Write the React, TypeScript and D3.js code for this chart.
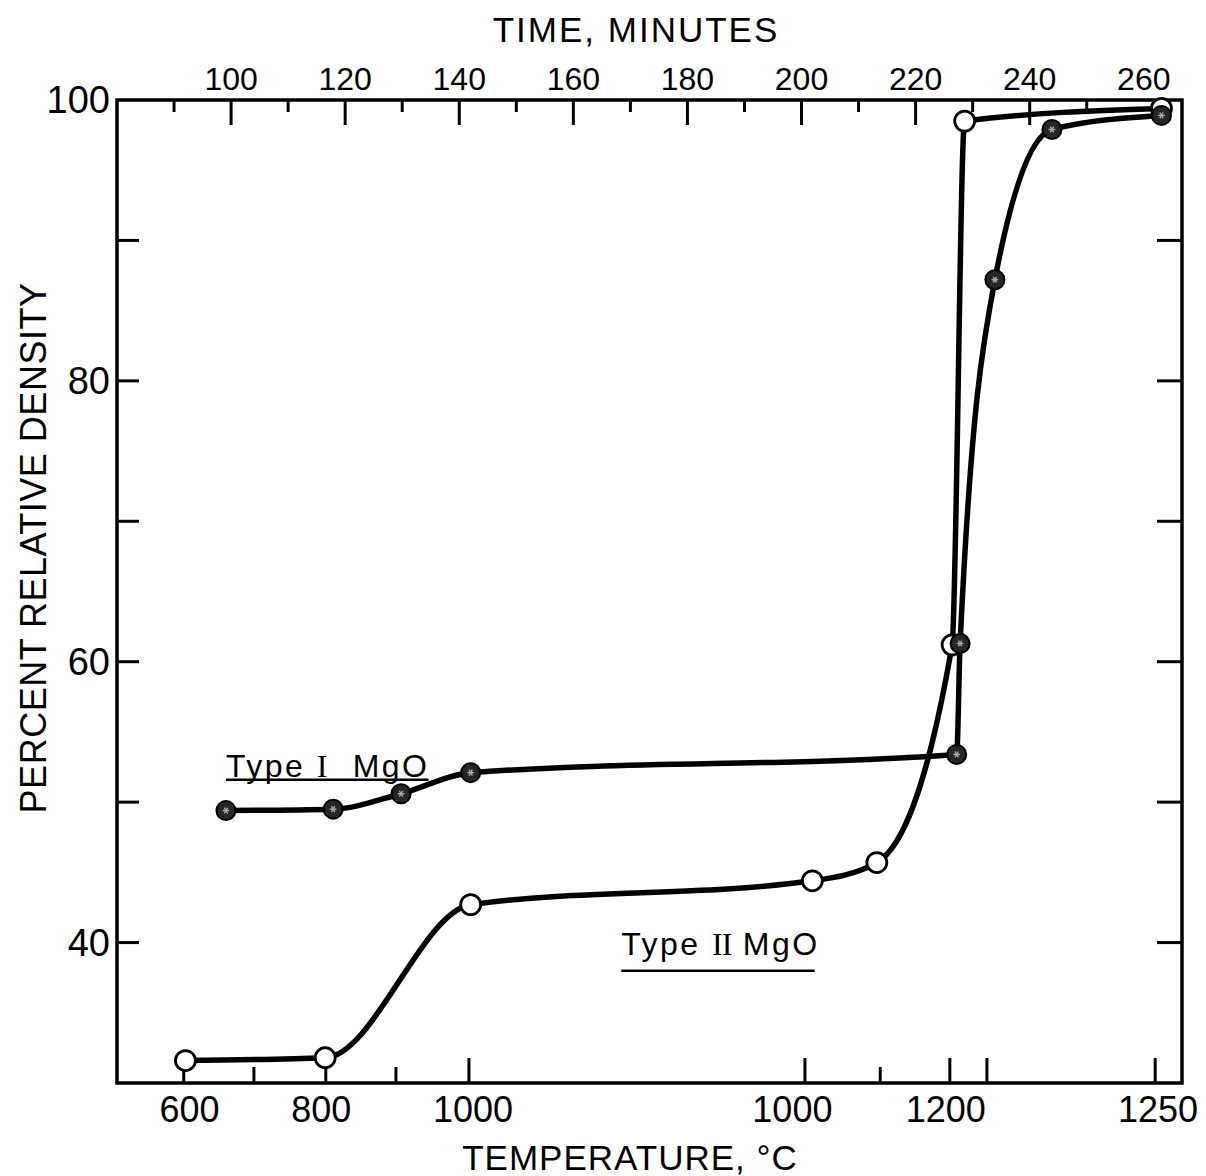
import React from "react";
import * as d3 from "d3";

// ---- data (x = time in minutes, y = percent relative density) ----
const typeIITime = [92, 116.5, 142, 201.9, 213.2, 226.4, 228.6, 263.1];
const typeIIDensity = [31.6, 31.8, 42.7, 44.4, 45.7, 61.2, 98.5, 99.4];

const typeITime = [99.1, 117.9, 129.8, 142, 227.2, 227.8, 233.9, 243.9, 263.1];
const typeIDensity = [49.4, 49.5, 50.6, 52.1, 53.4, 61.3, 87.2, 97.9, 98.9];

// top axis (time, minutes)
const timeMajorTicks = [100, 120, 140, 160, 180, 200, 220, 240];
const timeMinorTicks = [90, 110, 130, 150, 170, 190, 210, 230, 250];
const timeLabels = [100, 120, 140, 160, 180, 200, 220, 240, 260];

// bottom axis (temperature, placed at time of reaching it)
const tempTickTimes = [91.7, 104, 116.6, 128.9, 141.7, 200.6, 213.8, 226, 232.5, 262];
const tempTickLong = [true, false, true, false, true, true, false, true, true, true];
const tempLabels = ["600", "800", "1000", "1000", "1200", "1250"];
const tempLabelTimes = [92.7, 115.8, 142.4, 198.4, 225.3, 262.5];

// left / right axis
const densityTicks = [40, 50, 60, 70, 80, 90];
const densityLabels = [40, 60, 80, 100];

const W = 1206;
const H = 1176;
const FONT = "'Liberation Sans', Arial, Helvetica, sans-serif";

export default function App() {
  const x = d3.scaleLinear().domain([80, 266.7]).range([117, 1182]);
  const y = d3.scaleLinear().domain([30, 100]).range([1083, 100]);
  const [x0, x1] = x.range();
  const [yb, yt] = y.range();

  const line = d3
    .line<[number, number]>()
    .x((d) => x(d[0]))
    .y((d) => y(d[1]))
    .curve(d3.curveMonotoneX);

  const ptsII: [number, number][] = typeIITime.map((t, i) => [t, typeIIDensity[i]]);
  const ptsI: [number, number][] = typeITime.map((t, i) => [t, typeIDensity[i]]);

  const tickW = 3;

  return (
    <svg
      width={W}
      height={H}
      viewBox={`0 0 ${W} ${H}`}
      style={{ position: "absolute", left: 0, top: 0, display: "block", background: "#fff" }}
    >
      <rect x={0} y={0} width={W} height={H} fill="#fff" />

      {/* top axis ticks */}
      {timeMajorTicks.map((t) => (
        <line key={"tM" + t} x1={x(t)} x2={x(t)} y1={yt} y2={yt + 25} stroke="#000" strokeWidth={tickW} />
      ))}
      {timeMinorTicks.map((t) => (
        <line key={"tm" + t} x1={x(t)} x2={x(t)} y1={yt} y2={yt + 12} stroke="#000" strokeWidth={tickW} />
      ))}
      {timeLabels.map((t) => (
        <text key={"tl" + t} x={x(t)} y={90} fontSize={32} fontFamily={FONT} textAnchor="middle" fill="#000">
          {t}
        </text>
      ))}
      <text x={636} y={42} fontSize={35} fontFamily={FONT} textAnchor="middle" letterSpacing={2} fill="#000">
        TIME, MINUTES
      </text>

      {/* bottom axis ticks */}
      {tempTickTimes.map((t, i) => (
        <line
          key={"bt" + i}
          x1={x(t)}
          x2={x(t)}
          y1={yb}
          y2={yb - (tempTickLong[i] ? 25 : 16)}
          stroke="#000"
          strokeWidth={tickW}
        />
      ))}
      {tempLabels.map((s, i) => (
        <text key={"bl" + i} x={x(tempLabelTimes[i])} y={1122} fontSize={36} fontFamily={FONT} textAnchor="middle" fill="#000">
          {s}
        </text>
      ))}
      <text x={630} y={1170} fontSize={35} fontFamily={FONT} textAnchor="middle" letterSpacing={1} fill="#000">
        TEMPERATURE, °C
      </text>

      {/* left & right ticks */}
      {densityTicks.map((v) => (
        <g key={"yt" + v}>
          <line x1={x0} x2={x0 + 22} y1={y(v)} y2={y(v)} stroke="#000" strokeWidth={tickW} />
          <line x1={x1} x2={x1 - 25} y1={y(v)} y2={y(v)} stroke="#000" strokeWidth={tickW} />
        </g>
      ))}
      {densityLabels.map((v) => (
        <text key={"yl" + v} x={110} y={y(v) + 13} fontSize={38} fontFamily={FONT} textAnchor="end" fill="#000">
          {v}
        </text>
      ))}
      <text
        transform={`translate(46, 548) rotate(-90)`}
        fontSize={36}
        fontFamily={FONT}
        textAnchor="middle"
        letterSpacing={0.5}
        fill="#000"
      >
        PERCENT RELATIVE DENSITY
      </text>

      {/* frame */}
      <rect x={x0} y={yt} width={x1 - x0} height={yb - yt} fill="none" stroke="#000" strokeWidth={3.5} />

      {/* curves */}
      <path d={line(ptsII) || ""} fill="none" stroke="#000" strokeWidth={5.5} strokeLinejoin="round" />
      <path d={line(ptsI) || ""} fill="none" stroke="#000" strokeWidth={5.5} strokeLinejoin="round" />

      {/* Type II markers (open) */}
      {ptsII.map((p, i) => (
        <circle key={"m2" + i} cx={x(p[0])} cy={y(p[1])} r={10} fill="#fff" stroke="#000" strokeWidth={2.8} />
      ))}
      {/* Type I markers (filled) */}
      {ptsI.map((p, i) => {
        const cx = x(p[0]);
        const cy = y(p[1]);
        return (
          <g key={"m1" + i}>
            <circle cx={cx} cy={cy} r={9.5} fill="#262626" stroke="#000" strokeWidth={2} />
            {[0, 60, 120].map((a) => (
              <line
                key={a}
                x1={cx - 3.4 * Math.cos((a * Math.PI) / 180)}
                y1={cy - 3.4 * Math.sin((a * Math.PI) / 180)}
                x2={cx + 3.4 * Math.cos((a * Math.PI) / 180)}
                y2={cy + 3.4 * Math.sin((a * Math.PI) / 180)}
                stroke="#aaa"
                strokeWidth={1.4}
              />
            ))}
          </g>
        );
      })}

      {/* series labels */}
      <text x={x(99.1)} y={y(51.8)} fontSize={32} fontFamily={FONT} letterSpacing={2.5} fill="#000" xmlSpace="preserve">
        {"Type "}
        <tspan fontFamily="'Liberation Serif', 'Times New Roman', serif">I</tspan>
        {"  MgO"}
      </text>
      <line x1={x(99.1)} x2={x(134.6)} y1={y(51.6)} y2={y(51.6)} stroke="#000" strokeWidth={2.5} />

      <text x={x(168.4)} y={y(39.1)} fontSize={32} fontFamily={FONT} letterSpacing={2.5} fill="#000" xmlSpace="preserve">
        {"Type "}
        <tspan fontFamily="'Liberation Serif', 'Times New Roman', serif" letterSpacing={-1}>II</tspan>
        {" MgO"}
      </text>
      <line x1={x(168.4)} x2={x(202.3)} y1={y(38.0)} y2={y(38.0)} stroke="#000" strokeWidth={2.5} />
    </svg>
  );
}
